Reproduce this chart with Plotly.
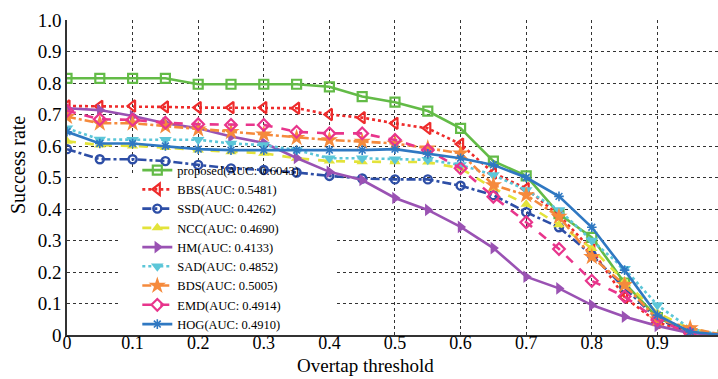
import plotly.graph_objects as go

thresholds = [0.00, 0.05, 0.10, 0.15, 0.20, 0.25, 0.30, 0.35, 0.40, 0.45, 0.50,
              0.55, 0.60, 0.65, 0.70, 0.75, 0.80, 0.85, 0.90, 0.95, 1.00]

proposed = [0.815, 0.815, 0.815, 0.815, 0.796, 0.796, 0.796, 0.796, 0.788, 0.757, 0.739,
            0.711, 0.656, 0.552, 0.505, 0.385, 0.310, 0.165, 0.055, 0.010, 0.0]
bbs = [0.727, 0.726, 0.727, 0.724, 0.722, 0.722, 0.722, 0.720, 0.700, 0.690, 0.672,
       0.656, 0.606, 0.514, 0.465, 0.380, 0.270, 0.120, 0.040, 0.010, 0.0]
ssd = [0.590, 0.558, 0.558, 0.552, 0.540, 0.529, 0.524, 0.516, 0.505, 0.497, 0.494,
       0.494, 0.474, 0.444, 0.390, 0.342, 0.254, 0.150, 0.050, 0.010, 0.0]
ncc = [0.615, 0.603, 0.600, 0.595, 0.587, 0.582, 0.577, 0.561, 0.552, 0.550, 0.550,
       0.549, 0.529, 0.466, 0.415, 0.350, 0.275, 0.170, 0.070, 0.020, 0.0]
hm = [0.720, 0.714, 0.695, 0.672, 0.656, 0.630, 0.610, 0.562, 0.518, 0.492, 0.435,
      0.397, 0.343, 0.276, 0.185, 0.148, 0.095, 0.058, 0.029, 0.006, 0.0]
sad = [0.656, 0.621, 0.620, 0.620, 0.620, 0.608, 0.603, 0.587, 0.561, 0.561, 0.558,
       0.556, 0.540, 0.508, 0.460, 0.397, 0.300, 0.210, 0.095, 0.020, 0.0]
bds = [0.693, 0.672, 0.672, 0.663, 0.653, 0.645, 0.637, 0.626, 0.619, 0.614, 0.608,
       0.593, 0.577, 0.476, 0.444, 0.376, 0.248, 0.159, 0.050, 0.022, 0.0]
emd = [0.712, 0.685, 0.683, 0.674, 0.669, 0.667, 0.667, 0.645, 0.640, 0.640, 0.619,
       0.587, 0.529, 0.439, 0.358, 0.273, 0.172, 0.122, 0.048, 0.005, 0.0]
hog = [0.645, 0.608, 0.608, 0.600, 0.590, 0.587, 0.587, 0.587, 0.587, 0.587, 0.590,
       0.575, 0.561, 0.540, 0.500, 0.440, 0.342, 0.206, 0.063, 0.010, 0.0]

series_names = ["proposed(AUC: 0.6043)", "BBS(AUC: 0.5481)", "SSD(AUC: 0.4262)",
                "NCC(AUC: 0.4690)", "HM(AUC: 0.4133)", "SAD(AUC: 0.4852)",
                "BDS(AUC: 0.5005)", "EMD(AUC: 0.4914)", "HOG(AUC: 0.4910)"]

x_title = "Overtap threshold"
y_title = "Success rate"

x_tickvals = [0, 0.1, 0.2, 0.3, 0.4, 0.5, 0.6, 0.7, 0.8, 0.9]
x_ticktext = ["0", "0.1", "0.2", "0.3", "0.4", "0.5", "0.6", "0.7", "0.8", "0.9"]
y_tickvals = [0, 0.1, 0.2, 0.3, 0.4, 0.5, 0.6, 0.7, 0.8, 0.9, 1.0]
y_ticktext = ["0", "0.1", "0.2", "0.3", "0.4", "0.5", "0.6", "0.7", "0.8", "0.9", "1.0"]

styles = [
    # color, dash, symbol, size, marker line width
    ("#63bb47", "solid", "square-open", 9, 2.2),
    ("#ee2b2b", "dot", "triangle-left-open", 10, 2.2),
    ("#2d4ea6", "dashdot", "circle-open", 8, 2.4),
    ("#e3e33a", "dash", "triangle-up", 10, 0),
    ("#9a52b3", "solid", "triangle-right", 11, 0),
    ("#5cc6d8", "dot", "triangle-down", 11, 0),
    ("#f58a3c", "dashdot", "star", 13, 0),
    ("#e8358c", "dash", "diamond-open", 9, 2.2),
    ("#2f78c2", "solid", "asterisk-open", 8, 1.6),
]

all_series = [proposed, bbs, ssd, ncc, hm, sad, bds, emd, hog]

fig = go.Figure()
for name, ys, (color, dash, symbol, size, mlw) in zip(series_names, all_series, styles):
    marker = dict(symbol=symbol, size=size, color=color)
    if mlw:
        marker["line"] = dict(color=color, width=mlw)
    fig.add_trace(go.Scatter(
        x=thresholds, y=ys, mode="lines+markers", name=name,
        line=dict(color=color, width=2.6, dash=dash),
        marker=marker,
    ))

serif = "Liberation Serif, Times New Roman, serif"

fig.update_layout(
    width=718, height=379,
    margin=dict(l=67, r=0, t=20, b=44),
    paper_bgcolor="white", plot_bgcolor="white",
    font=dict(family=serif, color="black"),
    showlegend=True,
    legend=dict(
        x=0.108, y=0.57, xanchor="left", yanchor="top",
        bgcolor="rgba(255,255,255,0)", borderwidth=0,
        font=dict(family=serif, size=12.5, color="black"),
        tracegroupgap=0,
    ),
    shapes=[dict(type="rect", xref="x", yref="y", x0=0.078, x1=0.41, y0=0.0, y1=0.505,
                 fillcolor="white", line=dict(width=0), layer="between")],
    annotations=[
        dict(text=x_title, xref="paper", yref="paper", x=0.458, y=-0.098,
             xanchor="center", yanchor="middle", showarrow=False,
             font=dict(family=serif, size=19, color="black")),
        dict(text=y_title, xref="paper", yref="paper", x=-0.075, y=0.54,
             xanchor="center", yanchor="middle", showarrow=False, textangle=-90,
             font=dict(family=serif, size=20, color="black")),
    ],
)

fig.update_xaxes(
    range=[0, 0.9924], tickvals=x_tickvals, ticktext=x_ticktext,
    tickfont=dict(family=serif, size=18), ticks="", ticklabelstandoff=-9,
    showgrid=True, gridcolor="#333333", griddash="dot", gridwidth=1,
    showline=True, linecolor="#333333", linewidth=1.5, zeroline=False,
    automargin=False,
)
fig.update_yaxes(
    range=[0, 1.0], tickvals=y_tickvals, ticktext=y_ticktext,
    tickfont=dict(family=serif, size=19), ticks="",
    showgrid=True, gridcolor="#333333", griddash="dot", gridwidth=1,
    showline=True, linecolor="#333333", linewidth=1.5, zeroline=False,
    automargin=False,
)

fig.write_html("out.html", config={"displayModeBar": False},
               post_script="document.body.style.margin='0';")
